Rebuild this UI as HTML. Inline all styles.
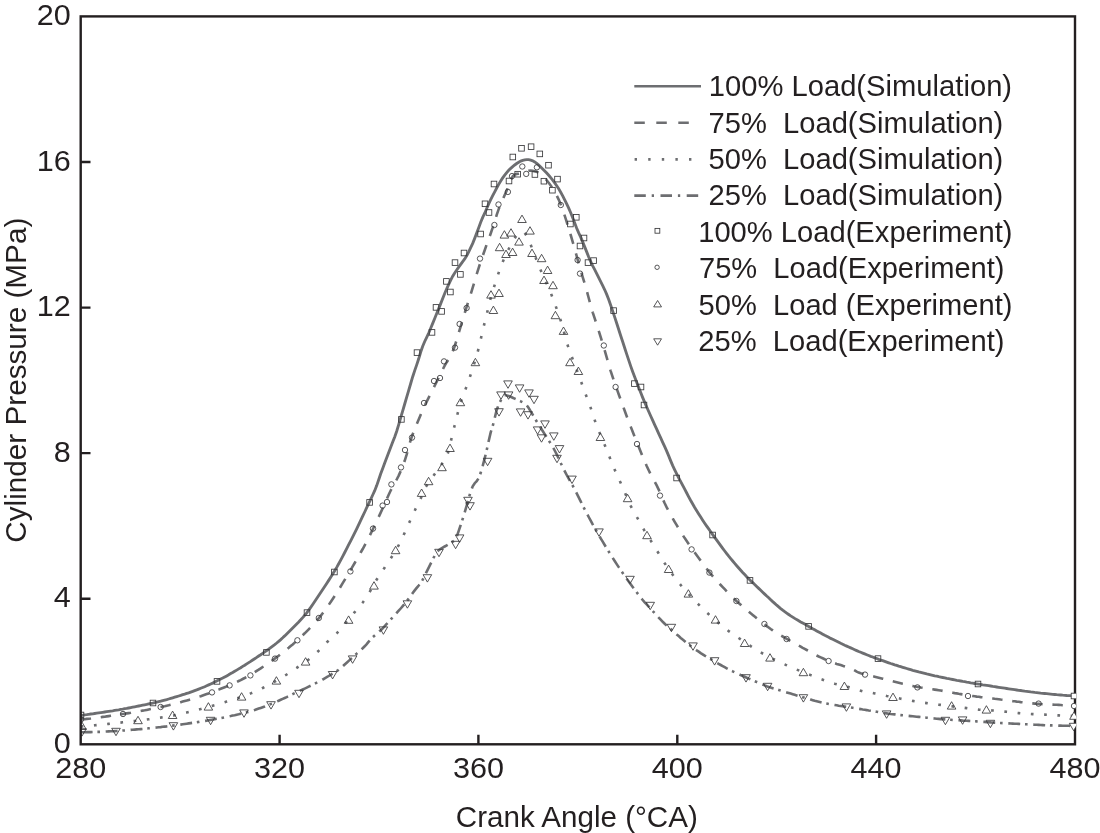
<!DOCTYPE html>
<html lang="en"><head><meta charset="utf-8"><title>Cylinder pressure vs crank angle</title>
<style>html,body{margin:0;padding:0;background:#fff}svg{display:block;will-change:transform}text{font-family:"Liberation Sans",Arial,Helvetica,sans-serif;fill:#231f20}.ln{fill:none;stroke:#6d6e71;stroke-width:2.6}.mk{fill:none;stroke:#38383a;stroke-width:0.85}.mkw{fill:#fff;stroke:#38383a;stroke-width:0.85}.ax{fill:none;stroke:#231f20;stroke-width:2.4}</style></head><body>
<svg width="1100" height="833" viewBox="0 0 1100 833">
<rect width="1100" height="833" fill="#fff"/>
<defs><clipPath id="plot"><rect x="80.7" y="16.4" width="994.3" height="727.9"/></clipPath></defs>
<g clip-path="url(#plot)">
<path class="ln" style="stroke-width:2.85" d="M80.7,715.3 L82.7,715.1 L84.7,714.8 L86.7,714.6 L88.7,714.3 L90.7,714.0 L92.7,713.8 L94.7,713.5 L96.7,713.2 L98.7,712.9 L100.7,712.6 L102.7,712.3 L104.7,712.0 L106.7,711.7 L108.7,711.4 L110.7,711.1 L112.7,710.8 L114.7,710.4 L116.7,710.1 L118.7,709.8 L120.7,709.4 L122.7,709.1 L124.7,708.7 L126.7,708.4 L128.7,708.0 L130.7,707.6 L132.7,707.2 L134.7,706.8 L136.7,706.4 L138.7,706.0 L140.7,705.6 L142.7,705.2 L144.7,704.8 L146.7,704.4 L148.7,703.9 L150.7,703.5 L152.7,703.1 L154.7,702.6 L156.7,702.2 L158.7,701.7 L160.7,701.2 L162.7,700.6 L164.7,700.1 L166.7,699.6 L168.7,699.0 L170.7,698.4 L172.7,697.8 L174.7,697.2 L176.7,696.6 L178.7,696.0 L180.7,695.4 L182.7,694.7 L184.7,694.1 L186.7,693.4 L188.7,692.8 L190.7,692.1 L192.7,691.4 L194.7,690.6 L196.7,689.9 L198.7,689.1 L200.7,688.3 L202.7,687.5 L204.7,686.7 L206.7,685.8 L208.7,684.9 L210.7,684.0 L212.7,683.1 L214.7,682.1 L216.7,681.1 L218.7,680.1 L220.7,679.1 L222.7,678.1 L224.7,677.0 L226.7,675.9 L228.7,674.8 L230.7,673.6 L232.7,672.5 L234.7,671.3 L236.7,670.1 L238.7,668.9 L240.7,667.7 L242.7,666.4 L244.7,665.2 L246.7,663.9 L248.7,662.6 L250.7,661.4 L252.7,660.0 L254.7,658.7 L256.7,657.4 L258.7,656.0 L260.7,654.7 L262.7,653.3 L264.7,651.9 L266.7,650.5 L268.7,649.1 L270.7,647.6 L272.7,646.1 L274.7,644.6 L276.7,643.0 L278.7,641.3 L280.7,639.6 L282.7,637.8 L284.7,635.9 L286.7,633.9 L288.7,631.9 L290.7,629.9 L292.7,627.9 L294.7,625.9 L296.7,623.9 L298.7,621.9 L300.7,619.8 L302.7,617.6 L304.7,615.3 L306.7,612.8 L308.7,610.1 L310.7,607.4 L312.7,604.5 L314.7,601.5 L316.7,598.5 L318.7,595.5 L320.7,592.5 L322.7,589.5 L324.7,586.5 L326.7,583.4 L328.7,580.4 L330.7,577.3 L332.7,574.1 L334.7,570.8 L336.7,567.4 L338.7,563.8 L340.7,560.1 L342.7,556.3 L344.7,552.5 L346.7,548.6 L348.7,544.7 L350.7,540.8 L352.7,536.8 L354.7,532.8 L356.7,528.8 L358.7,524.6 L360.7,520.4 L362.7,516.2 L364.7,512.0 L366.7,507.7 L368.7,503.5 L370.7,499.3 L372.7,495.0 L374.7,490.7 L376.7,485.6 L378.7,479.7 L380.7,473.8 L382.7,468.5 L384.7,463.1 L386.7,457.8 L388.7,452.5 L390.7,447.2 L392.7,442.1 L394.7,436.9 L396.7,431.2 L398.7,424.6 L400.7,417.7 L402.7,410.9 L404.7,404.0 L406.7,397.2 L408.7,390.3 L410.7,383.5 L412.7,376.7 L414.7,370.6 L416.7,364.9 L418.7,358.8 L420.7,352.0 L422.7,346.2 L424.7,341.5 L426.7,337.3 L428.7,333.0 L430.7,328.3 L432.7,323.4 L434.7,318.5 L436.7,313.5 L438.7,308.6 L440.7,303.6 L442.7,298.5 L444.7,293.5 L446.7,288.8 L448.7,284.4 L450.7,280.2 L452.7,276.2 L454.7,272.9 L456.7,270.0 L458.7,267.1 L460.7,264.3 L462.7,261.6 L464.7,258.9 L466.7,255.8 L468.7,251.9 L470.7,247.7 L472.7,243.4 L474.7,238.4 L476.7,233.1 L478.7,227.7 L480.7,222.3 L482.7,217.4 L484.7,213.2 L486.7,208.5 L488.7,203.9 L490.7,199.7 L492.7,195.7 L494.7,191.8 L496.7,188.0 L498.7,184.4 L500.7,181.0 L502.7,177.9 L504.7,175.1 L506.7,172.6 L508.7,170.3 L510.7,168.4 L512.7,166.6 L514.7,165.0 L516.7,163.5 L518.7,162.2 L520.7,161.1 L522.7,160.4 L524.7,159.9 L526.7,159.6 L528.7,159.7 L530.7,160.2 L532.7,160.8 L534.7,161.9 L536.7,163.4 L538.7,165.1 L540.7,167.0 L542.7,168.9 L544.7,170.9 L546.7,173.0 L548.7,175.3 L550.7,177.7 L552.7,180.2 L554.7,182.9 L556.7,185.7 L558.7,188.8 L560.7,192.2 L562.7,195.8 L564.7,199.8 L566.7,203.9 L568.7,208.2 L570.7,212.7 L572.7,217.7 L574.7,223.0 L576.7,228.2 L578.7,232.8 L580.7,237.1 L582.7,241.9 L584.7,246.9 L586.7,251.9 L588.7,257.0 L590.7,261.7 L592.7,265.9 L594.7,269.7 L596.7,273.7 L598.7,277.7 L600.7,281.6 L602.7,285.6 L604.7,289.8 L606.7,294.4 L608.7,299.5 L610.7,305.2 L612.7,311.1 L614.7,317.1 L616.7,323.3 L618.7,329.5 L620.7,335.7 L622.7,341.8 L624.7,348.0 L626.7,354.1 L628.7,360.1 L630.7,366.1 L632.7,371.7 L634.7,377.0 L636.7,382.3 L638.7,387.5 L640.7,392.6 L642.7,397.6 L644.7,402.4 L646.7,407.0 L648.7,411.5 L650.7,416.0 L652.7,420.4 L654.7,424.8 L656.7,429.2 L658.7,433.6 L660.7,437.9 L662.7,442.3 L664.7,446.7 L666.7,451.1 L668.7,455.9 L670.7,460.9 L672.7,465.6 L674.7,469.8 L676.7,473.9 L678.7,477.8 L680.7,481.6 L682.7,485.4 L684.7,489.2 L686.7,493.0 L688.7,496.8 L690.7,500.5 L692.7,504.0 L694.7,507.5 L696.7,510.8 L698.7,514.0 L700.7,517.1 L702.7,520.2 L704.7,523.2 L706.7,526.1 L708.7,528.9 L710.7,531.8 L712.7,534.6 L714.7,537.4 L716.7,540.2 L718.7,542.9 L720.7,545.7 L722.7,548.4 L724.7,551.0 L726.7,553.6 L728.7,556.2 L730.7,558.6 L732.7,561.0 L734.7,563.4 L736.7,565.7 L738.7,568.0 L740.7,570.3 L742.7,572.5 L744.7,574.6 L746.7,576.7 L748.7,578.7 L750.7,580.7 L752.7,582.6 L754.7,584.6 L756.7,586.5 L758.7,588.4 L760.7,590.3 L762.7,592.2 L764.7,594.1 L766.7,596.0 L768.7,597.8 L770.7,599.7 L772.7,601.6 L774.7,603.4 L776.7,605.2 L778.7,606.9 L780.7,608.6 L782.7,610.2 L784.7,611.7 L786.7,613.1 L788.7,614.5 L790.7,615.9 L792.7,617.1 L794.7,618.4 L796.7,619.6 L798.7,620.7 L800.7,621.9 L802.7,623.0 L804.7,624.1 L806.7,625.3 L808.7,626.4 L810.7,627.5 L812.7,628.7 L814.7,629.8 L816.7,630.9 L818.7,632.0 L820.7,633.1 L822.7,634.2 L824.7,635.3 L826.7,636.3 L828.7,637.3 L830.7,638.4 L832.7,639.3 L834.7,640.3 L836.7,641.3 L838.7,642.3 L840.7,643.3 L842.7,644.2 L844.7,645.2 L846.7,646.1 L848.7,647.0 L850.7,647.9 L852.7,648.8 L854.7,649.7 L856.7,650.6 L858.7,651.5 L860.7,652.3 L862.7,653.1 L864.7,653.9 L866.7,654.7 L868.7,655.5 L870.7,656.3 L872.7,657.0 L874.7,657.8 L876.7,658.5 L878.7,659.3 L880.7,660.0 L882.7,660.7 L884.7,661.4 L886.7,662.1 L888.7,662.8 L890.7,663.5 L892.7,664.1 L894.7,664.8 L896.7,665.4 L898.7,666.1 L900.7,666.7 L902.7,667.3 L904.7,667.9 L906.7,668.5 L908.7,669.1 L910.7,669.7 L912.7,670.3 L914.7,670.8 L916.7,671.3 L918.7,671.9 L920.7,672.4 L922.7,672.9 L924.7,673.4 L926.7,673.9 L928.7,674.3 L930.7,674.8 L932.7,675.3 L934.7,675.8 L936.7,676.2 L938.7,676.7 L940.7,677.1 L942.7,677.5 L944.7,677.9 L946.7,678.4 L948.7,678.7 L950.7,679.1 L952.7,679.5 L954.7,679.9 L956.7,680.3 L958.7,680.6 L960.7,681.0 L962.7,681.4 L964.7,681.7 L966.7,682.1 L968.7,682.4 L970.7,682.8 L972.7,683.1 L974.7,683.5 L976.7,683.8 L978.7,684.1 L980.7,684.4 L982.7,684.8 L984.7,685.1 L986.7,685.4 L988.7,685.7 L990.7,686.0 L992.7,686.4 L994.7,686.7 L996.7,687.0 L998.7,687.3 L1000.7,687.6 L1002.7,687.9 L1004.7,688.2 L1006.7,688.5 L1008.7,688.8 L1010.7,689.1 L1012.7,689.4 L1014.7,689.7 L1016.7,690.0 L1018.7,690.3 L1020.7,690.5 L1022.7,690.8 L1024.7,691.1 L1026.7,691.3 L1028.7,691.6 L1030.7,691.9 L1032.7,692.1 L1034.7,692.4 L1036.7,692.6 L1038.7,692.8 L1040.7,693.1 L1042.7,693.3 L1044.7,693.5 L1046.7,693.7 L1048.7,693.9 L1050.7,694.1 L1052.7,694.3 L1054.7,694.5 L1056.7,694.7 L1058.7,694.8 L1060.7,695.0 L1062.7,695.2 L1064.7,695.3 L1066.7,695.5 L1068.7,695.6 L1070.7,695.7 L1072.7,695.9 L1074.7,696.0 L1075.0,696.0"/>
<path class="ln" stroke-dasharray="10.4 9.8" d="M80.7,719.6 L82.7,719.4 L84.7,719.2 L86.7,718.9 L88.7,718.7 L90.7,718.5 L92.7,718.2 L94.7,718.0 L96.7,717.7 L98.7,717.5 L100.7,717.2 L102.7,716.9 L104.7,716.7 L106.7,716.4 L108.7,716.1 L110.7,715.8 L112.7,715.5 L114.7,715.2 L116.7,714.9 L118.7,714.6 L120.7,714.3 L122.7,714.0 L124.7,713.7 L126.7,713.4 L128.7,713.1 L130.7,712.8 L132.7,712.4 L134.7,712.1 L136.7,711.7 L138.7,711.4 L140.7,711.0 L142.7,710.6 L144.7,710.3 L146.7,709.9 L148.7,709.5 L150.7,709.1 L152.7,708.7 L154.7,708.3 L156.7,707.9 L158.7,707.5 L160.7,707.1 L162.7,706.6 L164.7,706.2 L166.7,705.7 L168.7,705.3 L170.7,704.8 L172.7,704.3 L174.7,703.8 L176.7,703.3 L178.7,702.7 L180.7,702.2 L182.7,701.6 L184.7,701.0 L186.7,700.5 L188.7,699.9 L190.7,699.3 L192.7,698.7 L194.7,698.1 L196.7,697.5 L198.7,696.8 L200.7,696.2 L202.7,695.5 L204.7,694.8 L206.7,694.1 L208.7,693.4 L210.7,692.7 L212.7,691.9 L214.7,691.2 L216.7,690.4 L218.7,689.6 L220.7,688.8 L222.7,688.0 L224.7,687.2 L226.7,686.4 L228.7,685.5 L230.7,684.7 L232.7,683.8 L234.7,682.9 L236.7,682.0 L238.7,681.0 L240.7,680.1 L242.7,679.0 L244.7,678.0 L246.7,676.9 L248.7,675.8 L250.7,674.6 L252.7,673.4 L254.7,672.2 L256.7,670.9 L258.7,669.7 L260.7,668.4 L262.7,667.0 L264.7,665.7 L266.7,664.3 L268.7,662.9 L270.7,661.5 L272.7,660.1 L274.7,658.6 L276.7,657.1 L278.7,655.7 L280.7,654.1 L282.7,652.6 L284.7,651.0 L286.7,649.4 L288.7,647.8 L290.7,646.1 L292.7,644.4 L294.7,642.6 L296.7,640.8 L298.7,639.0 L300.7,637.1 L302.7,635.2 L304.7,633.3 L306.7,631.3 L308.7,629.3 L310.7,627.3 L312.7,625.2 L314.7,623.0 L316.7,620.7 L318.7,618.4 L320.7,615.9 L322.7,613.3 L324.7,610.6 L326.7,607.8 L328.7,604.9 L330.7,602.0 L332.7,599.0 L334.7,595.9 L336.7,592.8 L338.7,589.7 L340.7,586.5 L342.7,583.2 L344.7,579.9 L346.7,576.6 L348.7,573.2 L350.7,569.8 L352.7,566.4 L354.7,563.0 L356.7,559.5 L358.7,556.0 L360.7,552.5 L362.7,549.0 L364.7,545.3 L366.7,541.5 L368.7,537.6 L370.7,533.6 L372.7,529.5 L374.7,525.4 L376.7,521.2 L378.7,516.9 L380.7,512.6 L382.7,508.3 L384.7,503.8 L386.7,499.2 L388.7,494.7 L390.7,490.5 L392.7,486.7 L394.7,483.2 L396.7,479.5 L398.7,475.6 L400.7,471.1 L402.7,466.2 L404.7,460.8 L406.7,454.4 L408.7,446.8 L410.7,439.9 L412.7,434.3 L414.7,429.1 L416.7,424.1 L418.7,419.4 L420.7,414.7 L422.7,410.1 L424.7,405.7 L426.7,401.6 L428.7,397.6 L430.7,393.6 L432.7,389.6 L434.7,385.6 L436.7,381.6 L438.7,377.6 L440.7,373.6 L442.7,369.6 L444.7,365.6 L446.7,362.2 L448.7,359.0 L450.7,355.5 L452.7,351.4 L454.7,346.2 L456.7,339.8 L458.7,333.0 L460.7,326.3 L462.7,319.6 L464.7,313.0 L466.7,306.6 L468.7,300.3 L470.7,294.1 L472.7,287.7 L474.7,281.0 L476.7,274.2 L478.7,267.8 L480.7,261.8 L482.7,255.9 L484.7,250.2 L486.7,244.5 L488.7,239.0 L490.7,233.5 L492.7,227.7 L494.7,221.4 L496.7,214.9 L498.7,209.1 L500.7,204.1 L502.7,199.5 L504.7,195.0 L506.7,190.4 L508.7,185.3 L510.7,180.2 L512.7,176.4 L514.7,174.6 L516.7,173.9 L518.7,173.7 L520.7,173.2 L522.7,172.5 L524.7,171.9 L526.7,171.3 L528.7,170.8 L530.7,170.6 L532.7,170.7 L534.7,171.2 L536.7,171.8 L538.7,172.8 L540.7,174.1 L542.7,175.8 L544.7,177.9 L546.7,180.2 L548.7,182.8 L550.7,185.5 L552.7,188.4 L554.7,191.7 L556.7,195.4 L558.7,199.6 L560.7,204.5 L562.7,209.9 L564.7,215.7 L566.7,221.8 L568.7,228.4 L570.7,235.0 L572.7,241.8 L574.7,248.9 L576.7,256.1 L578.7,263.4 L580.7,270.4 L582.7,277.1 L584.7,283.6 L586.7,290.5 L588.7,298.0 L590.7,305.5 L592.7,312.3 L594.7,318.4 L596.7,324.5 L598.7,330.7 L600.7,337.2 L602.7,343.7 L604.7,350.4 L606.7,357.3 L608.7,364.4 L610.7,371.1 L612.7,377.2 L614.7,383.0 L616.7,388.6 L618.7,394.2 L620.7,399.7 L622.7,405.3 L624.7,410.8 L626.7,416.2 L628.7,421.4 L630.7,426.6 L632.7,431.7 L634.7,436.8 L636.7,441.8 L638.7,446.8 L640.7,451.8 L642.7,456.7 L644.7,461.4 L646.7,466.0 L648.7,470.3 L650.7,474.4 L652.7,478.1 L654.7,481.6 L656.7,485.4 L658.7,489.6 L660.7,494.2 L662.7,498.9 L664.7,503.3 L666.7,507.4 L668.7,511.2 L670.7,514.8 L672.7,518.4 L674.7,521.8 L676.7,525.2 L678.7,528.5 L680.7,531.8 L682.7,535.0 L684.7,538.1 L686.7,541.0 L688.7,543.9 L690.7,546.8 L692.7,549.6 L694.7,552.4 L696.7,555.2 L698.7,558.0 L700.7,560.7 L702.7,563.5 L704.7,566.2 L706.7,568.8 L708.7,571.4 L710.7,573.9 L712.7,576.2 L714.7,578.5 L716.7,580.7 L718.7,582.9 L720.7,585.0 L722.7,587.1 L724.7,589.2 L726.7,591.3 L728.7,593.3 L730.7,595.4 L732.7,597.4 L734.7,599.3 L736.7,601.2 L738.7,603.0 L740.7,604.7 L742.7,606.5 L744.7,608.2 L746.7,609.9 L748.7,611.6 L750.7,613.3 L752.7,614.9 L754.7,616.6 L756.7,618.2 L758.7,619.8 L760.7,621.4 L762.7,623.0 L764.7,624.5 L766.7,626.1 L768.7,627.5 L770.7,629.0 L772.7,630.4 L774.7,631.8 L776.7,633.0 L778.7,634.3 L780.7,635.4 L782.7,636.5 L784.7,637.6 L786.7,638.8 L788.7,639.9 L790.7,641.0 L792.7,642.1 L794.7,643.3 L796.7,644.4 L798.7,645.5 L800.7,646.6 L802.7,647.8 L804.7,648.9 L806.7,650.0 L808.7,651.1 L810.7,652.3 L812.7,653.4 L814.7,654.5 L816.7,655.5 L818.7,656.5 L820.7,657.4 L822.7,658.3 L824.7,659.2 L826.7,660.0 L828.7,660.9 L830.7,661.7 L832.7,662.5 L834.7,663.2 L836.7,663.9 L838.7,664.5 L840.7,665.1 L842.7,665.8 L844.7,666.4 L846.7,667.1 L848.7,667.8 L850.7,668.5 L852.7,669.3 L854.7,670.4 L856.7,671.6 L858.7,672.6 L860.7,673.2 L862.7,673.7 L864.7,674.2 L866.7,674.7 L868.7,675.2 L870.7,675.7 L872.7,676.2 L874.7,676.7 L876.7,677.2 L878.7,677.7 L880.7,678.2 L882.7,678.7 L884.7,679.2 L886.7,679.7 L888.7,680.2 L890.7,680.7 L892.7,681.2 L894.7,681.7 L896.7,682.2 L898.7,682.7 L900.7,683.2 L902.7,683.7 L904.7,684.1 L906.7,684.6 L908.7,685.1 L910.7,685.5 L912.7,685.9 L914.7,686.4 L916.7,686.8 L918.7,687.1 L920.7,687.5 L922.7,687.8 L924.7,688.1 L926.7,688.4 L928.7,688.7 L930.7,689.0 L932.7,689.3 L934.7,689.6 L936.7,689.9 L938.7,690.2 L940.7,690.5 L942.7,690.9 L944.7,691.2 L946.7,691.6 L948.7,692.0 L950.7,692.3 L952.7,692.7 L954.7,693.1 L956.7,693.4 L958.7,693.8 L960.7,694.1 L962.7,694.4 L964.7,694.8 L966.7,695.1 L968.7,695.4 L970.7,695.7 L972.7,696.0 L974.7,696.3 L976.7,696.6 L978.7,696.8 L980.7,697.1 L982.7,697.3 L984.7,697.6 L986.7,697.8 L988.7,698.1 L990.7,698.3 L992.7,698.5 L994.7,698.8 L996.7,699.0 L998.7,699.2 L1000.7,699.5 L1002.7,699.7 L1004.7,700.0 L1006.7,700.3 L1008.7,700.5 L1010.7,700.8 L1012.7,701.1 L1014.7,701.3 L1016.7,701.6 L1018.7,701.8 L1020.7,702.1 L1022.7,702.3 L1024.7,702.6 L1026.7,702.8 L1028.7,703.0 L1030.7,703.2 L1032.7,703.4 L1034.7,703.6 L1036.7,703.8 L1038.7,703.9 L1040.7,704.0 L1042.7,704.2 L1044.7,704.3 L1046.7,704.4 L1048.7,704.5 L1050.7,704.5 L1052.7,704.6 L1054.7,704.7 L1056.7,704.8 L1058.7,704.9 L1060.7,705.0 L1062.7,705.2 L1064.7,705.3 L1066.7,705.4 L1068.7,705.6 L1070.7,705.7 L1072.7,705.8 L1074.7,706.0 L1075.0,706.0"/>
<path class="ln" stroke-dasharray="2.7 10.6" d="M80.7,726.6 L82.7,726.4 L84.7,726.2 L86.7,726.1 L88.7,725.9 L90.7,725.7 L92.7,725.5 L94.7,725.3 L96.7,725.1 L98.7,724.9 L100.7,724.7 L102.7,724.5 L104.7,724.3 L106.7,724.1 L108.7,723.9 L110.7,723.7 L112.7,723.4 L114.7,723.2 L116.7,723.0 L118.7,722.8 L120.7,722.6 L122.7,722.3 L124.7,722.1 L126.7,721.9 L128.7,721.7 L130.7,721.4 L132.7,721.2 L134.7,721.0 L136.7,720.7 L138.7,720.5 L140.7,720.3 L142.7,720.0 L144.7,719.8 L146.7,719.6 L148.7,719.3 L150.7,719.0 L152.7,718.8 L154.7,718.5 L156.7,718.2 L158.7,717.9 L160.7,717.6 L162.7,717.3 L164.7,717.0 L166.7,716.7 L168.7,716.4 L170.7,716.0 L172.7,715.7 L174.7,715.3 L176.7,714.9 L178.7,714.5 L180.7,714.0 L182.7,713.6 L184.7,713.1 L186.7,712.6 L188.7,712.1 L190.7,711.6 L192.7,711.1 L194.7,710.6 L196.7,710.0 L198.7,709.5 L200.7,709.0 L202.7,708.4 L204.7,707.9 L206.7,707.3 L208.7,706.8 L210.7,706.3 L212.7,705.7 L214.7,705.2 L216.7,704.6 L218.7,704.0 L220.7,703.4 L222.7,702.8 L224.7,702.2 L226.7,701.6 L228.7,701.0 L230.7,700.4 L232.7,699.7 L234.7,699.1 L236.7,698.4 L238.7,697.8 L240.7,697.1 L242.7,696.4 L244.7,695.7 L246.7,694.9 L248.7,694.2 L250.7,693.4 L252.7,692.5 L254.7,691.7 L256.7,690.8 L258.7,689.9 L260.7,689.0 L262.7,688.0 L264.7,687.0 L266.7,686.0 L268.7,685.0 L270.7,683.9 L272.7,682.8 L274.7,681.7 L276.7,680.6 L278.7,679.4 L280.7,678.2 L282.7,677.0 L284.7,675.8 L286.7,674.5 L288.7,673.2 L290.7,671.9 L292.7,670.5 L294.7,669.2 L296.7,667.9 L298.7,666.5 L300.7,665.2 L302.7,663.8 L304.7,662.4 L306.7,661.0 L308.7,659.5 L310.7,657.9 L312.7,656.3 L314.7,654.5 L316.7,652.6 L318.7,650.7 L320.7,648.7 L322.7,646.7 L324.7,644.6 L326.7,642.5 L328.7,640.5 L330.7,638.6 L332.7,636.9 L334.7,635.3 L336.7,633.3 L338.7,631.1 L340.7,628.8 L342.7,626.4 L344.7,624.1 L346.7,621.7 L348.7,619.3 L350.7,616.9 L352.7,614.5 L354.7,612.1 L356.7,609.8 L358.7,607.4 L360.7,604.9 L362.7,602.5 L364.7,599.9 L366.7,597.0 L368.7,593.7 L370.7,590.1 L372.7,586.4 L374.7,582.7 L376.7,579.5 L378.7,576.5 L380.7,573.5 L382.7,570.5 L384.7,567.6 L386.7,564.5 L388.7,561.5 L390.7,558.5 L392.7,555.4 L394.7,552.1 L396.7,548.7 L398.7,545.1 L400.7,541.2 L402.7,537.0 L404.7,532.7 L406.7,528.2 L408.7,523.8 L410.7,519.4 L412.7,515.0 L414.7,510.7 L416.7,506.5 L418.7,502.6 L420.7,498.6 L422.7,493.5 L424.7,488.5 L426.7,485.6 L428.7,482.7 L430.7,479.9 L432.7,477.0 L434.7,474.1 L436.7,471.3 L438.7,468.4 L440.7,465.6 L442.7,462.7 L444.7,459.9 L446.7,456.7 L448.7,450.5 L450.7,442.0 L452.7,433.2 L454.7,425.2 L456.7,417.2 L458.7,409.4 L460.7,402.3 L462.7,396.5 L464.7,391.2 L466.7,386.2 L468.7,380.7 L470.7,374.5 L472.7,368.3 L474.7,362.0 L476.7,355.6 L478.7,348.1 L480.7,339.5 L482.7,330.3 L484.7,322.5 L486.7,315.0 L488.7,305.3 L490.7,297.8 L492.7,291.2 L494.7,284.9 L496.7,278.7 L498.7,272.7 L500.7,267.0 L502.7,261.9 L504.7,257.3 L506.7,253.1 L508.7,249.0 L510.7,245.2 L512.7,241.6 L514.7,238.2 L516.7,235.3 L518.7,233.1 L520.7,231.8 L522.7,231.7 L524.7,233.1 L526.7,235.9 L528.7,239.9 L530.7,244.8 L532.7,250.1 L534.7,255.2 L536.7,260.3 L538.7,265.3 L540.7,270.2 L542.7,274.9 L544.7,279.6 L546.7,283.7 L548.7,287.9 L550.7,292.7 L552.7,298.0 L554.7,303.4 L556.7,308.9 L558.7,314.5 L560.7,320.5 L562.7,327.0 L564.7,334.8 L566.7,342.3 L568.7,348.3 L570.7,353.9 L572.7,359.2 L574.7,364.5 L576.7,369.7 L578.7,375.1 L580.7,380.5 L582.7,386.2 L584.7,391.8 L586.7,397.0 L588.7,402.1 L590.7,407.9 L592.7,414.3 L594.7,420.1 L596.7,425.6 L598.7,430.7 L600.7,435.5 L602.7,440.2 L604.7,444.9 L606.7,449.7 L608.7,454.8 L610.7,460.1 L612.7,465.1 L614.7,469.7 L616.7,474.2 L618.7,478.6 L620.7,483.0 L622.7,487.3 L624.7,492.0 L626.7,496.9 L628.7,501.6 L630.7,505.8 L632.7,509.7 L634.7,513.3 L636.7,516.7 L638.7,520.2 L640.7,523.8 L642.7,527.5 L644.7,531.1 L646.7,534.3 L648.7,537.4 L650.7,540.5 L652.7,543.7 L654.7,547.0 L656.7,550.3 L658.7,553.5 L660.7,556.8 L662.7,560.0 L664.7,563.2 L666.7,566.2 L668.7,569.2 L670.7,572.0 L672.7,574.7 L674.7,577.4 L676.7,579.9 L678.7,582.5 L680.7,585.0 L682.7,587.5 L684.7,589.8 L686.7,592.0 L688.7,594.2 L690.7,596.3 L692.7,598.4 L694.7,600.5 L696.7,602.6 L698.7,604.6 L700.7,606.7 L702.7,608.7 L704.7,610.6 L706.7,612.5 L708.7,614.3 L710.7,616.1 L712.7,617.9 L714.7,619.7 L716.7,621.5 L718.7,623.2 L720.7,624.9 L722.7,626.6 L724.7,628.1 L726.7,629.6 L728.7,631.1 L730.7,632.5 L732.7,633.9 L734.7,635.2 L736.7,636.6 L738.7,638.0 L740.7,639.3 L742.7,640.7 L744.7,642.0 L746.7,643.4 L748.7,644.7 L750.7,646.1 L752.7,647.4 L754.7,648.7 L756.7,650.0 L758.7,651.2 L760.7,652.4 L762.7,653.5 L764.7,654.6 L766.7,655.6 L768.7,656.7 L770.7,657.7 L772.7,658.7 L774.7,659.6 L776.7,660.6 L778.7,661.6 L780.7,662.5 L782.7,663.5 L784.7,664.4 L786.7,665.3 L788.7,666.3 L790.7,667.2 L792.7,668.0 L794.7,668.8 L796.7,669.6 L798.7,670.4 L800.7,671.2 L802.7,672.0 L804.7,672.8 L806.7,673.6 L808.7,674.4 L810.7,675.1 L812.7,675.9 L814.7,676.7 L816.7,677.4 L818.7,678.2 L820.7,679.0 L822.7,679.7 L824.7,680.4 L826.7,681.2 L828.7,681.8 L830.7,682.5 L832.7,683.1 L834.7,683.7 L836.7,684.2 L838.7,684.7 L840.7,685.2 L842.7,685.7 L844.7,686.2 L846.7,686.6 L848.7,687.1 L850.7,687.7 L852.7,688.2 L854.7,688.8 L856.7,689.4 L858.7,690.1 L860.7,690.7 L862.7,691.3 L864.7,691.8 L866.7,692.1 L868.7,692.5 L870.7,692.7 L872.7,693.0 L874.7,693.4 L876.7,693.7 L878.7,694.2 L880.7,694.6 L882.7,695.0 L884.7,695.4 L886.7,695.9 L888.7,696.3 L890.7,696.7 L892.7,697.1 L894.7,697.5 L896.7,697.9 L898.7,698.3 L900.7,698.7 L902.7,699.1 L904.7,699.5 L906.7,699.8 L908.7,700.2 L910.7,700.5 L912.7,700.9 L914.7,701.2 L916.7,701.6 L918.7,701.9 L920.7,702.2 L922.7,702.5 L924.7,702.8 L926.7,703.1 L928.7,703.4 L930.7,703.6 L932.7,703.9 L934.7,704.1 L936.7,704.4 L938.7,704.7 L940.7,704.9 L942.7,705.2 L944.7,705.4 L946.7,705.7 L948.7,705.9 L950.7,706.2 L952.7,706.4 L954.7,706.7 L956.7,706.9 L958.7,707.1 L960.7,707.4 L962.7,707.6 L964.7,707.9 L966.7,708.1 L968.7,708.4 L970.7,708.6 L972.7,708.9 L974.7,709.1 L976.7,709.3 L978.7,709.6 L980.7,709.8 L982.7,709.9 L984.7,710.0 L986.7,710.1 L988.7,710.2 L990.7,710.3 L992.7,710.5 L994.7,710.6 L996.7,710.8 L998.7,711.0 L1000.7,711.2 L1002.7,711.4 L1004.7,711.6 L1006.7,711.8 L1008.7,712.0 L1010.7,712.2 L1012.7,712.4 L1014.7,712.7 L1016.7,712.9 L1018.7,713.1 L1020.7,713.3 L1022.7,713.4 L1024.7,713.6 L1026.7,713.7 L1028.7,713.9 L1030.7,714.0 L1032.7,714.1 L1034.7,714.2 L1036.7,714.3 L1038.7,714.3 L1040.7,714.4 L1042.7,714.5 L1044.7,714.6 L1046.7,714.7 L1048.7,714.8 L1050.7,715.0 L1052.7,715.1 L1054.7,715.2 L1056.7,715.3 L1058.7,715.4 L1060.7,715.5 L1062.7,715.6 L1064.7,715.7 L1066.7,715.8 L1068.7,715.8 L1070.7,715.9 L1072.7,715.9 L1074.7,716.0 L1075.0,716.0"/>
<path class="ln" stroke-dasharray="11.9 4.8 2.6 5.7" d="M80.7,732.2 L82.7,732.2 L84.7,732.2 L86.7,732.1 L88.7,732.1 L90.7,732.1 L92.7,732.0 L94.7,732.0 L96.7,731.9 L98.7,731.9 L100.7,731.8 L102.7,731.7 L104.7,731.6 L106.7,731.5 L108.7,731.4 L110.7,731.3 L112.7,731.2 L114.7,731.1 L116.7,731.0 L118.7,730.8 L120.7,730.7 L122.7,730.5 L124.7,730.4 L126.7,730.2 L128.7,730.1 L130.7,729.9 L132.7,729.8 L134.7,729.6 L136.7,729.4 L138.7,729.3 L140.7,729.1 L142.7,728.9 L144.7,728.7 L146.7,728.5 L148.7,728.3 L150.7,728.1 L152.7,727.9 L154.7,727.7 L156.7,727.5 L158.7,727.3 L160.7,727.1 L162.7,726.8 L164.7,726.6 L166.7,726.4 L168.7,726.1 L170.7,725.9 L172.7,725.6 L174.7,725.4 L176.7,725.1 L178.7,724.9 L180.7,724.6 L182.7,724.3 L184.7,724.0 L186.7,723.7 L188.7,723.4 L190.7,723.1 L192.7,722.8 L194.7,722.5 L196.7,722.2 L198.7,721.9 L200.7,721.5 L202.7,721.2 L204.7,720.9 L206.7,720.6 L208.7,720.2 L210.7,719.9 L212.7,719.5 L214.7,719.2 L216.7,718.8 L218.7,718.5 L220.7,718.1 L222.7,717.7 L224.7,717.3 L226.7,716.9 L228.7,716.5 L230.7,716.1 L232.7,715.6 L234.7,715.2 L236.7,714.7 L238.7,714.3 L240.7,713.8 L242.7,713.3 L244.7,712.8 L246.7,712.3 L248.7,711.8 L250.7,711.2 L252.7,710.6 L254.7,710.0 L256.7,709.3 L258.7,708.6 L260.7,707.9 L262.7,707.2 L264.7,706.5 L266.7,705.7 L268.7,704.9 L270.7,704.1 L272.7,703.3 L274.7,702.5 L276.7,701.6 L278.7,700.7 L280.7,699.8 L282.7,698.9 L284.7,698.0 L286.7,697.1 L288.7,696.1 L290.7,695.1 L292.7,694.1 L294.7,693.1 L296.7,692.2 L298.7,691.3 L300.7,690.4 L302.7,689.5 L304.7,688.6 L306.7,687.7 L308.7,686.7 L310.7,685.7 L312.7,684.7 L314.7,683.7 L316.7,682.7 L318.7,681.6 L320.7,680.6 L322.7,679.5 L324.7,678.3 L326.7,677.2 L328.7,676.0 L330.7,674.8 L332.7,673.6 L334.7,672.4 L336.7,671.1 L338.7,669.7 L340.7,668.1 L342.7,666.4 L344.7,664.5 L346.7,662.7 L348.7,660.9 L350.7,659.1 L352.7,657.3 L354.7,655.5 L356.7,653.6 L358.7,651.8 L360.7,650.0 L362.7,648.2 L364.7,646.3 L366.7,644.1 L368.7,641.7 L370.7,639.4 L372.7,637.3 L374.7,635.5 L376.7,633.8 L378.7,632.1 L380.7,630.3 L382.7,628.3 L384.7,626.1 L386.7,623.9 L388.7,621.8 L390.7,619.5 L392.7,617.3 L394.7,615.1 L396.7,612.9 L398.7,610.7 L400.7,608.5 L402.7,606.2 L404.7,603.8 L406.7,601.2 L408.7,598.6 L410.7,595.9 L412.7,593.1 L414.7,590.4 L416.7,587.9 L418.7,585.5 L420.7,582.9 L422.7,579.6 L424.7,575.6 L426.7,571.6 L428.7,567.6 L430.7,563.6 L432.7,559.6 L434.7,555.6 L436.7,552.4 L438.7,550.2 L440.7,548.9 L442.7,547.7 L444.7,546.5 L446.7,545.4 L448.7,544.2 L450.7,543.0 L452.7,541.7 L454.7,540.3 L456.7,536.8 L458.7,530.9 L460.7,525.0 L462.7,518.8 L464.7,512.3 L466.7,505.5 L468.7,498.1 L470.7,491.6 L472.7,486.3 L474.7,483.2 L476.7,481.1 L478.7,478.2 L480.7,472.8 L482.7,465.9 L484.7,458.3 L486.7,450.2 L488.7,440.9 L490.7,432.4 L492.7,426.1 L494.7,418.1 L496.7,410.0 L498.7,404.5 L500.7,400.6 L502.7,396.9 L504.7,395.0 L506.7,395.4 L508.7,396.0 L510.7,396.8 L512.7,397.7 L514.7,398.6 L516.7,399.5 L518.7,400.4 L520.7,401.3 L522.7,402.3 L524.7,403.5 L526.7,405.3 L528.7,408.0 L530.7,411.3 L532.7,414.7 L534.7,418.2 L536.7,421.5 L538.7,424.7 L540.7,427.8 L542.7,431.0 L544.7,434.1 L546.7,437.2 L548.7,440.4 L550.7,443.5 L552.7,446.8 L554.7,450.5 L556.7,454.4 L558.7,458.6 L560.7,463.0 L562.7,467.2 L564.7,471.2 L566.7,475.0 L568.7,478.7 L570.7,482.1 L572.7,485.6 L574.7,489.3 L576.7,493.3 L578.7,497.3 L580.7,501.4 L582.7,505.5 L584.7,509.4 L586.7,513.2 L588.7,517.0 L590.7,520.7 L592.7,524.4 L594.7,527.9 L596.7,531.5 L598.7,534.9 L600.7,538.3 L602.7,541.7 L604.7,545.0 L606.7,548.3 L608.7,551.5 L610.7,554.7 L612.7,557.9 L614.7,561.0 L616.7,564.1 L618.7,567.1 L620.7,570.1 L622.7,573.0 L624.7,575.9 L626.7,578.7 L628.7,581.5 L630.7,584.2 L632.7,586.9 L634.7,589.6 L636.7,592.3 L638.7,595.0 L640.7,597.6 L642.7,600.0 L644.7,602.3 L646.7,604.4 L648.7,606.6 L650.7,608.8 L652.7,611.0 L654.7,613.2 L656.7,615.4 L658.7,617.6 L660.7,619.7 L662.7,621.8 L664.7,623.7 L666.7,625.6 L668.7,627.4 L670.7,629.1 L672.7,630.9 L674.7,632.6 L676.7,634.4 L678.7,636.1 L680.7,637.9 L682.7,639.6 L684.7,641.2 L686.7,642.9 L688.7,644.5 L690.7,646.0 L692.7,647.5 L694.7,649.0 L696.7,650.4 L698.7,651.7 L700.7,653.1 L702.7,654.3 L704.7,655.6 L706.7,656.8 L708.7,658.0 L710.7,659.2 L712.7,660.4 L714.7,661.6 L716.7,662.7 L718.7,663.9 L720.7,665.0 L722.7,666.1 L724.7,667.2 L726.7,668.3 L728.7,669.4 L730.7,670.4 L732.7,671.3 L734.7,672.3 L736.7,673.2 L738.7,674.2 L740.7,675.1 L742.7,676.0 L744.7,676.8 L746.7,677.7 L748.7,678.6 L750.7,679.4 L752.7,680.3 L754.7,681.2 L756.7,682.0 L758.7,682.9 L760.7,683.8 L762.7,684.6 L764.7,685.4 L766.7,686.2 L768.7,686.9 L770.7,687.6 L772.7,688.2 L774.7,688.8 L776.7,689.4 L778.7,690.0 L780.7,690.6 L782.7,691.2 L784.7,691.8 L786.7,692.4 L788.7,693.0 L790.7,693.6 L792.7,694.2 L794.7,694.8 L796.7,695.4 L798.7,696.0 L800.7,696.6 L802.7,697.2 L804.7,697.8 L806.7,698.4 L808.7,699.0 L810.7,699.6 L812.7,700.2 L814.7,700.8 L816.7,701.3 L818.7,701.8 L820.7,702.3 L822.7,702.8 L824.7,703.2 L826.7,703.6 L828.7,704.0 L830.7,704.4 L832.7,704.7 L834.7,705.0 L836.7,705.3 L838.7,705.7 L840.7,706.0 L842.7,706.3 L844.7,706.6 L846.7,706.9 L848.7,707.2 L850.7,707.5 L852.7,707.8 L854.7,708.1 L856.7,708.4 L858.7,708.8 L860.7,709.1 L862.7,709.5 L864.7,709.8 L866.7,710.1 L868.7,710.5 L870.7,710.8 L872.7,711.2 L874.7,711.5 L876.7,711.8 L878.7,712.2 L880.7,712.5 L882.7,712.8 L884.7,713.1 L886.7,713.4 L888.7,713.7 L890.7,714.0 L892.7,714.2 L894.7,714.4 L896.7,714.7 L898.7,714.9 L900.7,715.1 L902.7,715.3 L904.7,715.5 L906.7,715.7 L908.7,715.9 L910.7,716.1 L912.7,716.3 L914.7,716.5 L916.7,716.7 L918.7,716.9 L920.7,717.1 L922.7,717.3 L924.7,717.5 L926.7,717.7 L928.7,717.9 L930.7,718.1 L932.7,718.3 L934.7,718.5 L936.7,718.7 L938.7,718.9 L940.7,719.1 L942.7,719.3 L944.7,719.4 L946.7,719.6 L948.7,719.7 L950.7,719.8 L952.7,720.0 L954.7,720.1 L956.7,720.2 L958.7,720.3 L960.7,720.4 L962.7,720.6 L964.7,720.7 L966.7,720.8 L968.7,720.9 L970.7,721.0 L972.7,721.2 L974.7,721.3 L976.7,721.4 L978.7,721.5 L980.7,721.6 L982.7,721.8 L984.7,721.9 L986.7,722.1 L988.7,722.2 L990.7,722.4 L992.7,722.5 L994.7,722.7 L996.7,722.8 L998.7,722.9 L1000.7,723.0 L1002.7,723.1 L1004.7,723.2 L1006.7,723.3 L1008.7,723.4 L1010.7,723.5 L1012.7,723.6 L1014.7,723.7 L1016.7,723.8 L1018.7,723.9 L1020.7,724.0 L1022.7,724.1 L1024.7,724.2 L1026.7,724.3 L1028.7,724.4 L1030.7,724.5 L1032.7,724.6 L1034.7,724.7 L1036.7,724.8 L1038.7,724.9 L1040.7,725.0 L1042.7,725.1 L1044.7,725.2 L1046.7,725.3 L1048.7,725.3 L1050.7,725.4 L1052.7,725.4 L1054.7,725.5 L1056.7,725.5 L1058.7,725.6 L1060.7,725.6 L1062.7,725.7 L1064.7,725.7 L1066.7,725.8 L1068.7,725.8 L1070.7,725.9 L1072.7,725.9 L1074.7,726.0 L1075.0,726.0"/>
<g><rect class="mk" x="78.2" y="712.2" width="5.6" height="5.6"/><rect class="mk" x="150.2" y="700.2" width="5.6" height="5.6"/><rect class="mk" x="214.2" y="678.6" width="5.6" height="5.6"/><rect class="mk" x="263.6" y="649.6" width="5.6" height="5.6"/><rect class="mk" x="304.2" y="609.8" width="5.6" height="5.6"/><rect class="mk" x="331.6" y="569.2" width="5.6" height="5.6"/><rect class="mk" x="366.8" y="499.6" width="5.6" height="5.6"/><rect class="mk" x="414.2" y="349.8" width="5.6" height="5.6"/><rect class="mk" x="398.6" y="416.6" width="5.6" height="5.6"/><rect class="mk" x="482.2" y="201.0" width="5.6" height="5.6"/><rect class="mk" x="486.2" y="209.7" width="5.6" height="5.6"/><rect class="mk" x="477.8" y="231.2" width="5.6" height="5.6"/><rect class="mk" x="461.2" y="250.2" width="5.6" height="5.6"/><rect class="mk" x="452.2" y="259.8" width="5.6" height="5.6"/><rect class="mk" x="457.6" y="271.6" width="5.6" height="5.6"/><rect class="mk" x="443.6" y="278.6" width="5.6" height="5.6"/><rect class="mk" x="447.6" y="289.2" width="5.6" height="5.6"/><rect class="mk" x="433.2" y="304.6" width="5.6" height="5.6"/><rect class="mk" x="438.8" y="308.6" width="5.6" height="5.6"/><rect class="mk" x="429.2" y="329.6" width="5.6" height="5.6"/><rect class="mk" x="573.5" y="214.5" width="5.6" height="5.6"/><rect class="mk" x="567.6" y="221.2" width="5.6" height="5.6"/><rect class="mk" x="581.2" y="235.2" width="5.6" height="5.6"/><rect class="mk" x="577.2" y="243.2" width="5.6" height="5.6"/><rect class="mk" x="590.8" y="257.8" width="5.6" height="5.6"/><rect class="mk" x="585.2" y="259.8" width="5.6" height="5.6"/><rect class="mk" x="610.8" y="307.8" width="5.6" height="5.6"/><rect class="mk" x="510.0" y="154.2" width="5.6" height="5.6"/><rect class="mk" x="518.7" y="145.5" width="5.6" height="5.6"/><rect class="mk" x="528.3" y="143.9" width="5.6" height="5.6"/><rect class="mk" x="537.0" y="151.1" width="5.6" height="5.6"/><rect class="mk" x="545.7" y="162.4" width="5.6" height="5.6"/><rect class="mk" x="554.7" y="176.3" width="5.6" height="5.6"/><rect class="mk" x="491.2" y="181.2" width="5.6" height="5.6"/><rect class="mk" x="514.9" y="171.4" width="5.6" height="5.6"/><rect class="mk" x="506.2" y="178.2" width="5.6" height="5.6"/><rect class="mk" x="532.1" y="171.7" width="5.6" height="5.6"/><rect class="mk" x="541.1" y="178.4" width="5.6" height="5.6"/><rect class="mk" x="549.6" y="187.4" width="5.6" height="5.6"/><rect class="mk" x="631.6" y="380.8" width="5.6" height="5.6"/><rect class="mk" x="638.2" y="384.2" width="5.6" height="5.6"/><rect class="mk" x="641.2" y="402.2" width="5.6" height="5.6"/><rect class="mk" x="673.8" y="475.2" width="5.6" height="5.6"/><rect class="mk" x="709.8" y="532.2" width="5.6" height="5.6"/><rect class="mk" x="747.2" y="577.6" width="5.6" height="5.6"/><rect class="mk" x="805.8" y="623.6" width="5.6" height="5.6"/><rect class="mk" x="875.2" y="655.8" width="5.6" height="5.6"/><rect class="mk" x="975.2" y="681.2" width="5.6" height="5.6"/></g>
<g><circle class="mk" cx="81.0" cy="719.4" r="2.7"/><circle class="mk" cx="123.0" cy="714.0" r="2.7"/><circle class="mk" cx="160.6" cy="707.0" r="2.7"/><circle class="mk" cx="212.0" cy="692.4" r="2.7"/><circle class="mk" cx="229.6" cy="685.4" r="2.7"/><circle class="mk" cx="250.4" cy="675.4" r="2.7"/><circle class="mk" cx="275.0" cy="658.6" r="2.7"/><circle class="mk" cx="297.4" cy="640.3" r="2.7"/><circle class="mk" cx="318.8" cy="618.0" r="2.7"/><circle class="mk" cx="350.4" cy="571.4" r="2.7"/><circle class="mk" cx="373.0" cy="528.6" r="2.7"/><circle class="mk" cx="382.6" cy="505.6" r="2.7"/><circle class="mk" cx="387.0" cy="502.0" r="2.7"/><circle class="mk" cx="455.0" cy="347.6" r="2.7"/><circle class="mk" cx="444.0" cy="361.4" r="2.7"/><circle class="mk" cx="440.0" cy="378.0" r="2.7"/><circle class="mk" cx="434.0" cy="381.0" r="2.7"/><circle class="mk" cx="424.0" cy="403.0" r="2.7"/><circle class="mk" cx="412.0" cy="437.6" r="2.7"/><circle class="mk" cx="405.0" cy="450.0" r="2.7"/><circle class="mk" cx="401.0" cy="467.4" r="2.7"/><circle class="mk" cx="391.4" cy="484.4" r="2.7"/><circle class="mk" cx="498.5" cy="204.5" r="2.7"/><circle class="mk" cx="494.4" cy="225.0" r="2.7"/><circle class="mk" cx="480.0" cy="258.6" r="2.7"/><circle class="mk" cx="466.6" cy="308.0" r="2.7"/><circle class="mk" cx="459.6" cy="324.0" r="2.7"/><circle class="mk" cx="560.8" cy="205.0" r="2.7"/><circle class="mk" cx="577.6" cy="260.0" r="2.7"/><circle class="mk" cx="580.0" cy="273.6" r="2.7"/><circle class="mk" cx="603.8" cy="345.5" r="2.7"/><circle class="mk" cx="522.3" cy="166.5" r="2.7"/><circle class="mk" cx="536.9" cy="167.3" r="2.7"/><circle class="mk" cx="512.0" cy="176.1" r="2.7"/><circle class="mk" cx="526.2" cy="173.9" r="2.7"/><circle class="mk" cx="507.9" cy="191.9" r="2.7"/><circle class="mk" cx="615.6" cy="387.0" r="2.7"/><circle class="mk" cx="637.0" cy="444.0" r="2.7"/><circle class="mk" cx="660.0" cy="495.6" r="2.7"/><circle class="mk" cx="691.6" cy="549.4" r="2.7"/><circle class="mk" cx="709.4" cy="572.6" r="2.7"/><circle class="mk" cx="736.4" cy="601.0" r="2.7"/><circle class="mk" cx="764.4" cy="624.0" r="2.7"/><circle class="mk" cx="786.6" cy="639.0" r="2.7"/><circle class="mk" cx="828.6" cy="661.0" r="2.7"/><circle class="mk" cx="865.0" cy="674.6" r="2.7"/><circle class="mk" cx="917.4" cy="687.4" r="2.7"/><circle class="mk" cx="968.0" cy="696.0" r="2.7"/><circle class="mk" cx="1038.6" cy="703.6" r="2.7"/></g>
<g><path class="mk" d="M77.7,729.5L86.3,729.5L82.0,722.1Z"/><path class="mk" d="M133.7,723.7L142.3,723.7L138.0,716.3Z"/><path class="mk" d="M168.3,718.5L176.9,718.5L172.6,711.1Z"/><path class="mk" d="M204.1,710.1L212.7,710.1L208.4,702.7Z"/><path class="mk" d="M237.3,700.1L245.9,700.1L241.6,692.7Z"/><path class="mk" d="M272.1,684.1L280.7,684.1L276.4,676.7Z"/><path class="mk" d="M301.3,665.1L309.9,665.1L305.6,657.7Z"/><path class="mk" d="M344.3,623.3L352.9,623.3L348.6,615.9Z"/><path class="mk" d="M369.7,589.1L378.3,589.1L374.0,581.7Z"/><path class="mk" d="M391.3,553.7L399.9,553.7L395.6,546.3Z"/><path class="mk" d="M417.3,496.4L425.9,496.4L421.6,489.0Z"/><path class="mk" d="M471.1,365.7L479.7,365.7L475.4,358.3Z"/><path class="mk" d="M456.1,405.7L464.7,405.7L460.4,398.3Z"/><path class="mk" d="M445.7,451.5L454.3,451.5L450.0,444.1Z"/><path class="mk" d="M437.7,470.7L446.3,470.7L442.0,463.3Z"/><path class="mk" d="M424.3,484.7L432.9,484.7L428.6,477.3Z"/><path class="mk" d="M517.7,222.5L526.3,222.5L522.0,215.1Z"/><path class="mk" d="M525.7,234.1L534.3,234.1L530.0,226.7Z"/><path class="mk" d="M500.1,238.1L508.7,238.1L504.4,230.7Z"/><path class="mk" d="M506.7,236.1L515.3,236.1L511.0,228.7Z"/><path class="mk" d="M514.7,245.1L523.3,245.1L519.0,237.7Z"/><path class="mk" d="M495.3,250.7L503.9,250.7L499.6,243.3Z"/><path class="mk" d="M508.3,255.5L516.9,255.5L512.6,248.1Z"/><path class="mk" d="M501.7,257.5L510.3,257.5L506.0,250.1Z"/><path class="mk" d="M527.7,256.5L536.3,256.5L532.0,249.1Z"/><path class="mk" d="M537.3,261.7L545.9,261.7L541.6,254.3Z"/><path class="mk" d="M543.3,273.5L551.9,273.5L547.6,266.1Z"/><path class="mk" d="M539.7,283.5L548.3,283.5L544.0,276.1Z"/><path class="mk" d="M548.7,288.7L557.3,288.7L553.0,281.3Z"/><path class="mk" d="M494.7,296.5L503.3,296.5L499.0,289.1Z"/><path class="mk" d="M486.7,298.1L495.3,298.1L491.0,290.7Z"/><path class="mk" d="M489.1,313.5L497.7,313.5L493.4,306.1Z"/><path class="mk" d="M551.1,318.7L559.7,318.7L555.4,311.3Z"/><path class="mk" d="M559.2,334.4L567.8,334.4L563.5,327.0Z"/><path class="mk" d="M565.7,365.7L574.3,365.7L570.0,358.3Z"/><path class="mk" d="M574.1,374.5L582.7,374.5L578.4,367.1Z"/><path class="mk" d="M596.1,440.5L604.7,440.5L600.4,433.1Z"/><path class="mk" d="M623.3,501.7L631.9,501.7L627.6,494.3Z"/><path class="mk" d="M642.7,538.7L651.3,538.7L647.0,531.3Z"/><path class="mk" d="M664.3,572.5L672.9,572.5L668.6,565.1Z"/><path class="mk" d="M684.1,597.1L692.7,597.1L688.4,589.7Z"/><path class="mk" d="M711.2,623.1L719.8,623.1L715.5,615.7Z"/><path class="mk" d="M740.3,646.5L748.9,646.5L744.6,639.1Z"/><path class="mk" d="M765.7,661.1L774.3,661.1L770.0,653.7Z"/><path class="mk" d="M799.1,675.7L807.7,675.7L803.4,668.3Z"/><path class="mk" d="M840.1,689.5L848.7,689.5L844.4,682.1Z"/><path class="mk" d="M888.7,700.5L897.3,700.5L893.0,693.1Z"/><path class="mk" d="M947.3,709.1L955.9,709.1L951.6,701.7Z"/><path class="mk" d="M982.1,713.1L990.7,713.1L986.4,705.7Z"/></g>
<g><path class="mk" d="M77.7,728.7L86.3,728.7L82.0,736.1Z"/><path class="mk" d="M111.7,728.3L120.3,728.3L116.0,735.7Z"/><path class="mk" d="M169.1,722.7L177.7,722.7L173.4,730.1Z"/><path class="mk" d="M206.3,717.3L214.9,717.3L210.6,724.7Z"/><path class="mk" d="M239.7,709.9L248.3,709.9L244.0,717.3Z"/><path class="mk" d="M266.7,701.7L275.3,701.7L271.0,709.1Z"/><path class="mk" d="M294.7,690.3L303.3,690.3L299.0,697.7Z"/><path class="mk" d="M328.3,671.5L336.9,671.5L332.6,678.9Z"/><path class="mk" d="M348.3,655.9L356.9,655.9L352.6,663.3Z"/><path class="mk" d="M379.1,626.9L387.7,626.9L383.4,634.3Z"/><path class="mk" d="M403.1,600.8L411.7,600.8L407.4,608.2Z"/><path class="mk" d="M423.1,574.7L431.7,574.7L427.4,582.1Z"/><path class="mk" d="M434.7,549.3L443.3,549.3L439.0,556.7Z"/><path class="mk" d="M451.3,541.3L459.9,541.3L455.6,548.7Z"/><path class="mk" d="M455.3,534.9L463.9,534.9L459.6,542.3Z"/><path class="mk" d="M465.7,502.7L474.3,502.7L470.0,510.1Z"/><path class="mk" d="M463.7,497.3L472.3,497.3L468.0,504.7Z"/><path class="mk" d="M503.7,380.9L512.3,380.9L508.0,388.3Z"/><path class="mk" d="M515.3,384.9L523.9,384.9L519.6,392.3Z"/><path class="mk" d="M524.7,389.9L533.3,389.9L529.0,397.3Z"/><path class="mk" d="M529.7,396.3L538.3,396.3L534.0,403.7Z"/><path class="mk" d="M496.7,391.9L505.3,391.9L501.0,399.3Z"/><path class="mk" d="M504.3,391.9L512.9,391.9L508.6,399.3Z"/><path class="mk" d="M494.7,408.7L503.3,408.7L499.0,416.1Z"/><path class="mk" d="M516.3,408.9L524.9,408.9L520.6,416.3Z"/><path class="mk" d="M523.7,411.7L532.3,411.7L528.0,419.1Z"/><path class="mk" d="M540.7,420.9L549.3,420.9L545.0,428.3Z"/><path class="mk" d="M533.3,426.9L541.9,426.9L537.6,434.3Z"/><path class="mk" d="M537.2,434.8L545.8,434.8L541.5,442.2Z"/><path class="mk" d="M549.5,432.9L558.1,432.9L553.8,440.3Z"/><path class="mk" d="M555.2,445.6L563.8,445.6L559.5,453.0Z"/><path class="mk" d="M552.7,455.3L561.3,455.3L557.0,462.7Z"/><path class="mk" d="M483.3,458.3L491.9,458.3L487.6,465.7Z"/><path class="mk" d="M567.7,476.1L576.3,476.1L572.0,483.5Z"/><path class="mk" d="M594.7,528.9L603.3,528.9L599.0,536.3Z"/><path class="mk" d="M625.7,576.3L634.3,576.3L630.0,583.7Z"/><path class="mk" d="M645.9,602.3L654.5,602.3L650.2,609.7Z"/><path class="mk" d="M667.1,624.3L675.7,624.3L671.4,631.7Z"/><path class="mk" d="M688.7,642.9L697.3,642.9L693.0,650.3Z"/><path class="mk" d="M710.3,657.7L718.9,657.7L714.6,665.1Z"/><path class="mk" d="M741.7,674.7L750.3,674.7L746.0,682.1Z"/><path class="mk" d="M763.3,683.3L771.9,683.3L767.6,690.7Z"/><path class="mk" d="M799.1,694.7L807.7,694.7L803.4,702.1Z"/><path class="mk" d="M842.1,703.9L850.7,703.9L846.4,711.3Z"/><path class="mk" d="M882.3,710.9L890.9,710.9L886.6,718.3Z"/><path class="mk" d="M941.1,717.3L949.7,717.3L945.4,724.7Z"/><path class="mk" d="M958.3,716.9L966.9,716.9L962.6,724.3Z"/><path class="mk" d="M986.1,720.3L994.7,720.3L990.4,727.7Z"/></g>
</g>
<rect class="ax" x="80.7" y="16.4" width="994.3" height="727.9"/>
<clipPath id="redge"><rect x="1000" y="600" width="76.2" height="160"/></clipPath>
<g clip-path="url(#redge)"><rect class="mkw" x="1071.2" y="693.2" width="5.6" height="5.6"/><circle class="mkw" cx="1074.0" cy="706.0" r="2.7"/><path class="mkw" d="M1069.7,719.3L1078.3,719.3L1074.0,711.9Z"/><path class="mkw" d="M1069.3,723.3L1077.9,723.3L1073.6,730.7Z"/></g>
<path class="ax" d="M279.6,744.3V734.8M478.4,744.3V734.8M677.3,744.3V734.8M876.1,744.3V734.8M80.7,598.7H90.5M80.7,453.1H90.5M80.7,307.6H90.5M80.7,162.0H90.5"/>
<text x="80.7" y="778.3" font-size="29" text-anchor="middle" textLength="51.0" lengthAdjust="spacingAndGlyphs">280</text>
<text x="279.6" y="778.3" font-size="29" text-anchor="middle" textLength="51.0" lengthAdjust="spacingAndGlyphs">320</text>
<text x="478.4" y="778.3" font-size="29" text-anchor="middle" textLength="51.0" lengthAdjust="spacingAndGlyphs">360</text>
<text x="677.3" y="778.3" font-size="29" text-anchor="middle" textLength="51.0" lengthAdjust="spacingAndGlyphs">400</text>
<text x="876.1" y="778.3" font-size="29" text-anchor="middle" textLength="51.0" lengthAdjust="spacingAndGlyphs">440</text>
<text x="1075.0" y="778.3" font-size="29" text-anchor="middle" textLength="51.0" lengthAdjust="spacingAndGlyphs">480</text>
<text x="70.8" y="752.8" font-size="29" text-anchor="end" textLength="17.0" lengthAdjust="spacingAndGlyphs">0</text>
<text x="70.8" y="607.2" font-size="29" text-anchor="end" textLength="17.0" lengthAdjust="spacingAndGlyphs">4</text>
<text x="70.8" y="461.6" font-size="29" text-anchor="end" textLength="17.0" lengthAdjust="spacingAndGlyphs">8</text>
<text x="70.8" y="316.1" font-size="29" text-anchor="end" textLength="34.0" lengthAdjust="spacingAndGlyphs">12</text>
<text x="70.8" y="170.5" font-size="29" text-anchor="end" textLength="34.0" lengthAdjust="spacingAndGlyphs">16</text>
<text x="70.8" y="24.9" font-size="29" text-anchor="end" textLength="34.0" lengthAdjust="spacingAndGlyphs">20</text>
<text x="576.8" y="826.6" font-size="29.5" text-anchor="middle" textLength="242" lengthAdjust="spacingAndGlyphs">Crank Angle (°CA)</text>
<text transform="translate(26.3,380.2) rotate(-90)" font-size="29.5" text-anchor="middle" textLength="325" lengthAdjust="spacingAndGlyphs">Cylinder Pressure (MPa)</text>
<text x="708.7" y="96.3" font-size="28.6" xml:space="preserve" style="white-space:pre" textLength="303.4" lengthAdjust="spacingAndGlyphs">100% Load(Simulation)</text>
<text x="708.5" y="132.67" font-size="28.6" xml:space="preserve" style="white-space:pre" textLength="294.8" lengthAdjust="spacingAndGlyphs">75%  Load(Simulation)</text>
<text x="708.5" y="169.04" font-size="28.6" xml:space="preserve" style="white-space:pre" textLength="294.8" lengthAdjust="spacingAndGlyphs">50%  Load(Simulation)</text>
<text x="708.5" y="205.40999999999997" font-size="28.6" xml:space="preserve" style="white-space:pre" textLength="294.8" lengthAdjust="spacingAndGlyphs">25%  Load(Simulation)</text>
<text x="698.2" y="241.77999999999997" font-size="28.6" xml:space="preserve" style="white-space:pre" textLength="314.3" lengthAdjust="spacingAndGlyphs">100% Load(Experiment)</text>
<text x="699.0" y="278.15" font-size="28.6" xml:space="preserve" style="white-space:pre" textLength="305.5" lengthAdjust="spacingAndGlyphs">75%  Load(Experiment)</text>
<text x="698.6" y="314.52" font-size="28.6" xml:space="preserve" style="white-space:pre" textLength="313.9" lengthAdjust="spacingAndGlyphs">50%  Load (Experiment)</text>
<text x="698.3" y="350.89" font-size="28.6" xml:space="preserve" style="white-space:pre" textLength="306.2" lengthAdjust="spacingAndGlyphs">25%  Load(Experiment)</text>
<path class="ln" style="stroke-width:2.6" d="M634.3,86.3H701"/>
<path class="ln" style="stroke-width:2.6" stroke-dasharray="10.5 11.5" d="M634.3,122.7H690"/>
<path class="ln" style="stroke-width:2.6" stroke-dasharray="2.4 11.2" d="M634.6,159.4H701"/>
<path class="ln" style="stroke-width:2.6" stroke-dasharray="11.5 5.9 2.3 6.5" d="M634.3,195.6H699"/>
<rect class="mk" x="655.0" y="228.4" width="4.8" height="4.8"/>
<circle class="mk" cx="657.1" cy="267.3" r="2.2"/>
<path class="mk" d="M653.7,306.9L661.5,306.9L657.6,300.5Z"/>
<path class="mk" d="M653.7,338.8L661.5,338.8L657.6,345.2Z"/>
</svg></body></html>
